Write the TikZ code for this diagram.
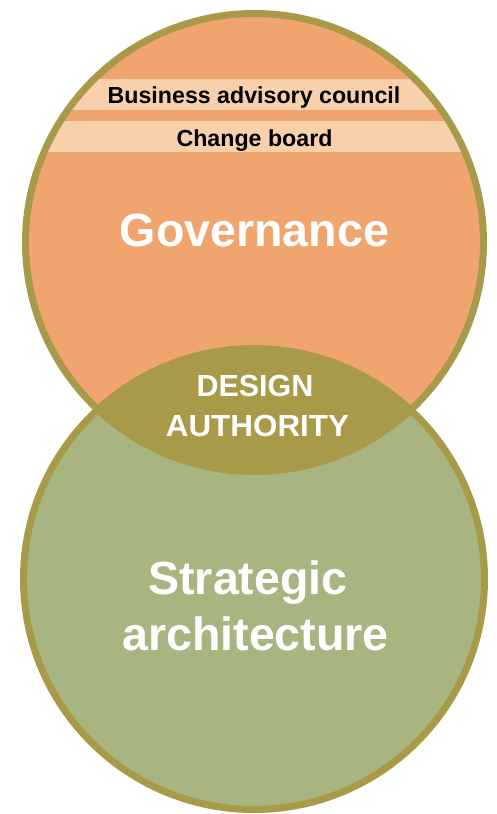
\documentclass[tikz,border=0pt]{standalone}
\usepackage{fontspec}
\setmainfont{Liberation Sans}
\definecolor{gov}{HTML}{F1A56E}
\definecolor{strat}{HTML}{A8B581}
\definecolor{olive}{HTML}{A89A48}
\definecolor{band}{HTML}{F9D0AC}
\begin{document}
\begin{tikzpicture}[x=1pt,y=-1pt,
  ring/.style={draw=olive,line width=7pt},
  bandtxt/.style={anchor=base,font=\bfseries\fontsize{23.2}{26}\selectfont,text=black,inner sep=0pt},
  bigtxt/.style={anchor=base,font=\bfseries\fontsize{46.6}{50}\selectfont,text=white,inner sep=0pt},
  datxt/.style={anchor=base,font=\bfseries\fontsize{30.5}{33}\selectfont,text=white,inner sep=0pt}]
\useasboundingbox (0,0) rectangle (497,814);
\coordinate (ctop) at (254.5,242.5);
\coordinate (cbot) at (254,579);
% fills
\fill[gov] (ctop) circle[radius=229];
\fill[strat] (cbot) circle[radius=230.5];
\begin{scope}
  \clip (ctop) circle[radius=229];
  \fill[olive] (cbot) circle[radius=230.5];
\end{scope}
% bands
\begin{scope}
  \clip (ctop) circle[radius=226];
  \fill[band] (0,79) rectangle (497,110);
  \fill[band] (0,121) rectangle (497,152);
\end{scope}
% rings
\draw[ring] (ctop) circle[radius=229];
\draw[ring] (cbot) circle[radius=230.5];
% texts
\node[bandtxt] (bac) at (254,103.5) {Business advisory council};
\node[bandtxt] (cb) at (254.5,146) {Change board};
\node[bigtxt] (gov) at (254.5,246) {Governance};
\node[datxt] (da1) at (255,396) {DESIGN};
\node[datxt,xscale=1.03,transform shape] (da2) at (257.5,436) {AUTHORITY};
\node[bigtxt] (st1) at (248,594) {Strategic};
\node[bigtxt] (st2) at (255.5,650) {architecture};
\end{tikzpicture}
\end{document}
